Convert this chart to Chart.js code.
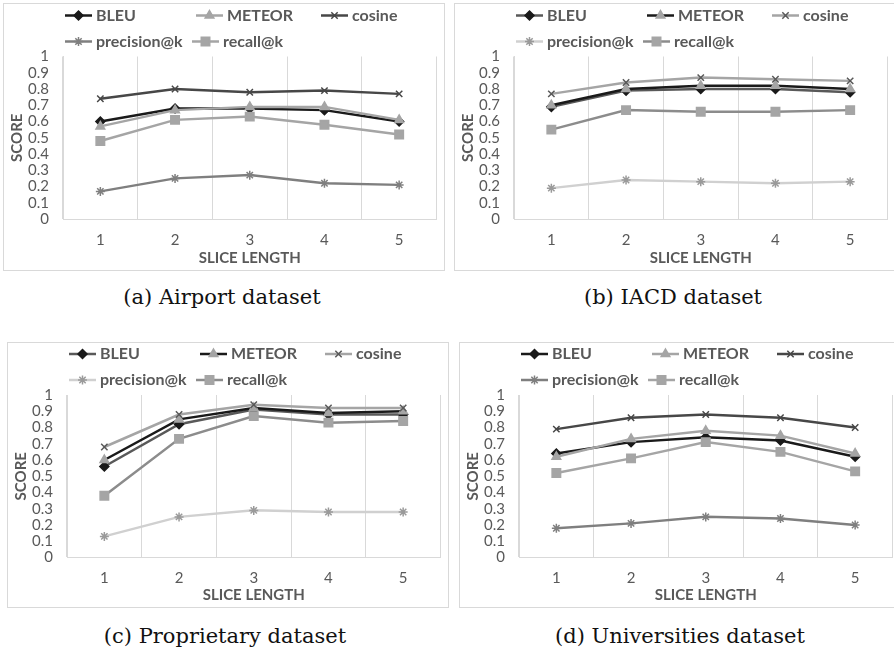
<!DOCTYPE html>
<html>
<head>
<meta charset="utf-8">
<script src="https://cdn.jsdelivr.net/npm/chart.js@4.4.1/dist/chart.umd.min.js"></script>
<style>
  html, body { margin: 0; padding: 0; background: #fff; }
  body { width: 894px; height: 653px; position: relative; overflow: hidden; }
  .box { position: absolute; border: 1px solid #d9d9d9; background: #fff; }
  .box canvas { display: block; }
  .cap { position: absolute; width: 442px; text-align: center; font-family: 'DejaVu Serif', serif; font-size: 21px; line-height: 24px; color: #111; }
</style>
</head>
<body>
<div class="box" style="left:3px;top:3px;"><canvas id="airportChart" width="440" height="266"></canvas></div>
<div class="box" style="left:454px;top:3px;"><canvas id="iacdChart" width="440" height="266"></canvas></div>
<div class="box" style="left:7px;top:342px;"><canvas id="proprietaryChart" width="440" height="264"></canvas></div>
<div class="box" style="left:459px;top:342px;"><canvas id="universitiesChart" width="440" height="264"></canvas></div>

<div class="cap" style="left:1px;top:285px;">(a) Airport dataset</div>
<div class="cap" style="left:452px;top:285px;">(b) IACD dataset</div>
<div class="cap" style="left:4px;top:624px;">(c) Proprietary dataset</div>
<div class="cap" style="left:459px;top:624px;">(d) Universities dataset</div>

<script>
// ---------------- datos ----------------
const sliceLengths = ['1', '2', '3', '4', '5'];
const yTickLabels = ['0', '0.1', '0.2', '0.3', '0.4', '0.5', '0.6', '0.7', '0.8', '0.9', '1'];
const metricNames = ['BLEU', 'METEOR', 'cosine', 'precision@k', 'recall@k'];

// (a) Airport
const airportBLEU      = [0.60, 0.68, 0.68, 0.67, 0.60];
const airportMETEOR    = [0.57, 0.67, 0.69, 0.69, 0.61];
const airportCosine    = [0.74, 0.80, 0.78, 0.79, 0.77];
const airportPrecision = [0.17, 0.25, 0.27, 0.22, 0.21];
const airportRecall    = [0.48, 0.61, 0.63, 0.58, 0.52];

// (b) IACD
const iacdBLEU      = [0.69, 0.79, 0.80, 0.80, 0.78];
const iacdMETEOR    = [0.70, 0.80, 0.82, 0.82, 0.80];
const iacdCosine    = [0.77, 0.84, 0.87, 0.86, 0.85];
const iacdPrecision = [0.19, 0.24, 0.23, 0.22, 0.23];
const iacdRecall    = [0.55, 0.67, 0.66, 0.66, 0.67];

// (c) Proprietary
const propBLEU      = [0.56, 0.82, 0.91, 0.88, 0.88];
const propMETEOR    = [0.60, 0.85, 0.92, 0.89, 0.90];
const propCosine    = [0.68, 0.88, 0.94, 0.92, 0.92];
const propPrecision = [0.13, 0.25, 0.29, 0.28, 0.28];
const propRecall    = [0.38, 0.73, 0.87, 0.83, 0.84];

// (d) Universities
const uniBLEU      = [0.64, 0.71, 0.74, 0.72, 0.62];
const uniMETEOR    = [0.62, 0.73, 0.78, 0.75, 0.64];
const uniCosine    = [0.79, 0.86, 0.88, 0.86, 0.80];
const uniPrecision = [0.18, 0.21, 0.25, 0.24, 0.20];
const uniRecall    = [0.52, 0.61, 0.71, 0.65, 0.53];

// ---------------- estilos ----------------
Chart.defaults.font.family = 'Lato';
Chart.defaults.color = '#595959';

const markerStyles = ['rectRot', 'triangle', 'crossRot', 'star', 'rect'];
const markerSizes = [4.5, 5, 4.5, 4.5, 6];

// esquema de grises de (a) y (d)
const darkScheme = {
  line:   ['#1a1a1a', '#a5a5a5', '#474747', '#7f7f7f', '#a5a5a5'],
  marker: ['#1a1a1a', '#a5a5a5', '#474747', '#7f7f7f', '#a5a5a5']
};
// esquema de grises de (b) y (c)
const lightScheme = {
  line:   ['#595959', '#1a1a1a', '#a5a5a5', '#d0d0d0', '#8c8c8c'],
  marker: ['#1a1a1a', '#a5a5a5', '#595959', '#9a9a9a', '#a5a5a5']
};

// leyenda tipo Excel: linea + marcador, en dos filas
const legendSlots = [[61, 0], [192, 0], [317, 0], [61, 1], [188, 1]];

const sliceLegend = {
  id: 'sliceLegend',
  afterDraw(chart) {
    const ctx = chart.ctx;
    const rows = [chart.chartArea.top - 41, chart.chartArea.top - 15];
    const drawPoint = Chart.helpers && Chart.helpers.drawPoint;
    ctx.save();
    chart.data.datasets.forEach((ds, i) => {
      const x = legendSlots[i][0];
      const y = rows[legendSlots[i][1]];
      ctx.strokeStyle = ds.borderColor;
      ctx.lineWidth = ds.borderWidth;
      ctx.beginPath();
      ctx.moveTo(x, y);
      ctx.lineTo(x + 27, y);
      ctx.stroke();
      if (drawPoint) {
        ctx.fillStyle = ds.pointBackgroundColor;
        ctx.strokeStyle = ds.pointBorderColor;
        ctx.lineWidth = ds.pointBorderWidth;
        drawPoint(ctx, { pointStyle: ds.pointStyle, radius: ds.pointRadius, rotation: 0, borderWidth: ds.pointBorderWidth }, x + 13.5, y);
      }
      ctx.fillStyle = '#595959';
      ctx.font = 'bold 16px Lato';
      ctx.textBaseline = 'middle';
      ctx.textAlign = 'left';
      ctx.fillText(ds.label, x + 31, y);
    });
    ctx.restore();
  }
};

function makeChart(id, values, scheme, padTop) {
  const canvas = document.getElementById(id);
  const plotH = 162.5;
  const xAxisH = canvas.height - padTop - plotH;
  return new Chart(canvas.getContext('2d'), {
    type: 'line',
    data: {
      labels: sliceLengths,
      datasets: metricNames.map((name, i) => ({
        label: name,
        data: values[i],
        borderColor: scheme.line[i],
        backgroundColor: scheme.line[i],
        borderWidth: 2.5,
        pointStyle: markerStyles[i],
        pointRadius: markerSizes[i],
        pointHoverRadius: markerSizes[i],
        pointBackgroundColor: scheme.marker[i],
        pointBorderColor: scheme.marker[i],
        pointBorderWidth: 1.5,
        tension: 0,
        fill: false,
        order: -i
      }))
    },
    options: {
      responsive: false,
      animation: false,
      layout: { padding: { top: padTop, right: 6, left: 0, bottom: 0 } },
      plugins: {
        legend: { display: false },
        tooltip: { enabled: false }
      },
      scales: {
        x: {
          offset: true,
          grid: {
            offset: true,
            drawTicks: false,
            color: (c) => c.index === sliceLengths.length ? 'rgba(0,0,0,0)' : '#d9d9d9'
          },
          border: { color: '#d9d9d9' },
          ticks: { padding: 12, font: { size: 15 }, color: '#595959' },
          title: {
            display: true,
            text: 'SLICE LENGTH',
            font: { size: 15, weight: 'bold' },
            color: '#595959',
            padding: { top: 0, bottom: 3 }
          },
          afterFit: (s) => { s.height = xAxisH; }
        },
        y: {
          min: 0,
          max: 1,
          grid: { display: false, drawTicks: false },
          border: { color: '#d9d9d9' },
          ticks: {
            stepSize: 0.1,
            autoSkip: false,
            maxTicksLimit: 11,
            padding: 14,
            font: { size: 15, lineHeight: 1 },
            color: '#595959',
            callback: (v, idx) => yTickLabels[idx]
          },
          afterBuildTicks: (s) => {
            s.ticks = yTickLabels.map((t) => ({ value: Number(t) }));
          },
          title: {
            display: true,
            text: 'SCORE',
            font: { size: 15, weight: 'bold' },
            color: '#595959',
            padding: { top: 4, bottom: 0 }
          },
          afterFit: (s) => { s.width = 59; }
        }
      }
    },
    plugins: [sliceLegend]
  });
}

document.addEventListener('DOMContentLoaded', function () {
  makeChart('airportChart', [airportBLEU, airportMETEOR, airportCosine, airportPrecision, airportRecall], darkScheme, 52.5);
  makeChart('iacdChart', [iacdBLEU, iacdMETEOR, iacdCosine, iacdPrecision, iacdRecall], lightScheme, 52.5);
  makeChart('proprietaryChart', [propBLEU, propMETEOR, propCosine, propPrecision, propRecall], lightScheme, 52);
  makeChart('universitiesChart', [uniBLEU, uniMETEOR, uniCosine, uniPrecision, uniRecall], darkScheme, 52);
});
</script>
</body>
</html>
